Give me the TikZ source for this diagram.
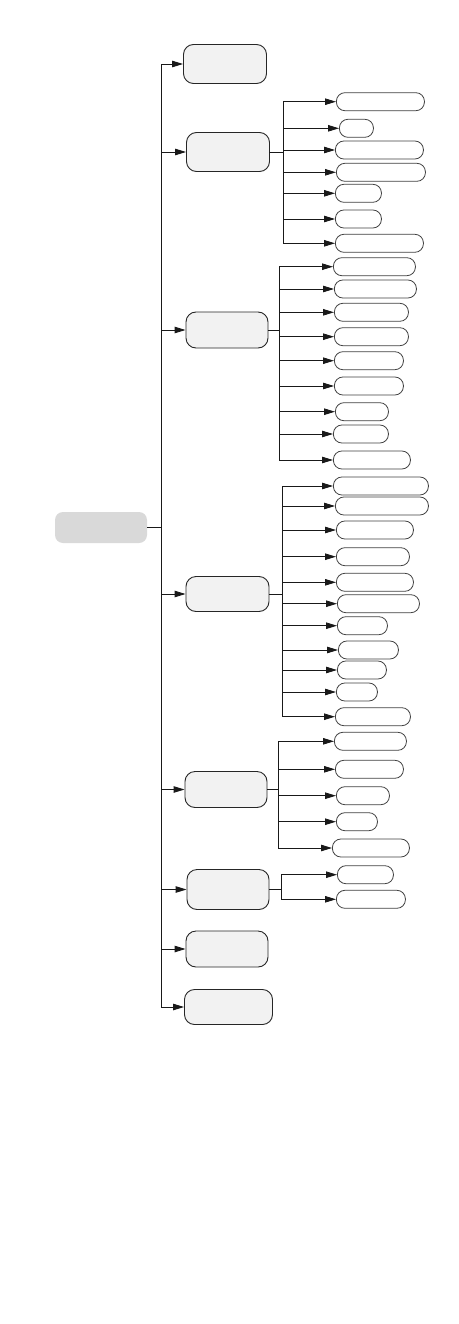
\documentclass[tikz,border=0pt]{standalone}
\usepackage{tikz}
\usetikzlibrary{arrows.meta,positioning}

\begin{document}
\begin{tikzpicture}[
    x=1pt, y=-1pt,
    rootbox/.style={
      rectangle, rounded corners=8pt, fill=black!15,
      minimum width=92pt, minimum height=31pt,
    },
    catbox/.style={
      rectangle, rounded corners=10pt, draw=black!85, fill=black!5,
      line width=0.9pt, inner sep=0pt,
    },
    leaf/.style={
      rectangle, rounded corners=8.5pt, draw=black!75, fill=white,
      line width=0.8pt, minimum height=18pt, inner sep=0pt, anchor=west,
    },
    conn/.style={-{Triangle[length=11pt,width=6.5pt]}, line width=0.9pt, black!90},
  ]
  \useasboundingbox (0,0) rectangle (458,1324);

  %% --- root ---
  \node[rootbox] (root) at (101,527.5) {};
  \coordinate (trunk) at (161,527.5);

  %% --- first level ---
  \foreach \n/\x/\y/\w/\h in {1/225/64/83/39, 2/228/152/83/39, 3/227/330/82/36,
                             4/227.5/594/83/35, 5/226/789.5/82/36, 6/228/889.5/82/40,
                             7/227/949/82/36, 8/228.5/1007/88/35} {
    \node[catbox, minimum width=\w pt, minimum height=\h pt] (cat\n) at (\x,\y) {};
    \draw[conn] (root.east) -- (trunk) |- (cat\n.west);
  }

  %% --- branch points ---
  \path (cat2.east) ++(13.5,0) coordinate (br2);
  \path (cat3.east) ++(11,0) coordinate (br3);
  \path (cat4.east) ++(13,0) coordinate (br4);
  \path (cat5.east) ++(11,0) coordinate (br5);
  \path (cat6.east) ++(12,0) coordinate (br6);

  %% --- second level ---
  \foreach \i/\y/\lx/\w in {1/101.7/336/88, 2/128.3/339/34, 3/150/335/88, 4/172.3/336/89,
                           5/193.3/335/46, 6/219/335/46, 7/243.3/335/88} {
    \node[leaf, minimum width=\w pt] (cat2-\i) at (\lx,\y) {};
    \draw[conn] (cat2.east) -- (br2) |- (cat2-\i.west);
  }

  \foreach \i/\y/\lx/\w in {1/266.7/333/82, 2/289/334/82, 3/312.3/334/74, 4/336.7/334/74,
                           5/360.7/334/69, 6/386/334/69, 7/411.7/335/53, 8/434/333/55,
                           9/460/333/77} {
    \node[leaf, minimum width=\w pt] (cat3-\i) at (\lx,\y) {};
    \draw[conn] (cat3.east) -- (br3) |- (cat3-\i.west);
  }

  \foreach \i/\y/\lx/\w in {1/486/333/95, 2/506/335/93, 3/530/336/77, 4/556.7/336/73,
                           5/582.3/336/77, 6/603.7/337/82, 7/625.7/337/50, 8/650/338/60,
                           9/670/337/49, 10/692/336/41, 11/716.7/335/75} {
    \node[leaf, minimum width=\w pt] (cat4-\i) at (\lx,\y) {};
    \draw[conn] (cat4.east) -- (br4) |- (cat4-\i.west);
  }

  \foreach \i/\y/\lx/\w in {1/741.3/334/72, 2/769.3/335/68, 3/795.7/336/53,
                           4/821.7/336/41, 5/848/332/77} {
    \node[leaf, minimum width=\w pt] (cat5-\i) at (\lx,\y) {};
    \draw[conn] (cat5.east) -- (br5) |- (cat5-\i.west);
  }

  \foreach \i/\y/\lx/\w in {1/874.7/337/56, 2/899.3/336/69} {
    \node[leaf, minimum width=\w pt] (cat6-\i) at (\lx,\y) {};
    \draw[conn] (cat6.east) -- (br6) |- (cat6-\i.west);
  }
\end{tikzpicture}
\end{document}
